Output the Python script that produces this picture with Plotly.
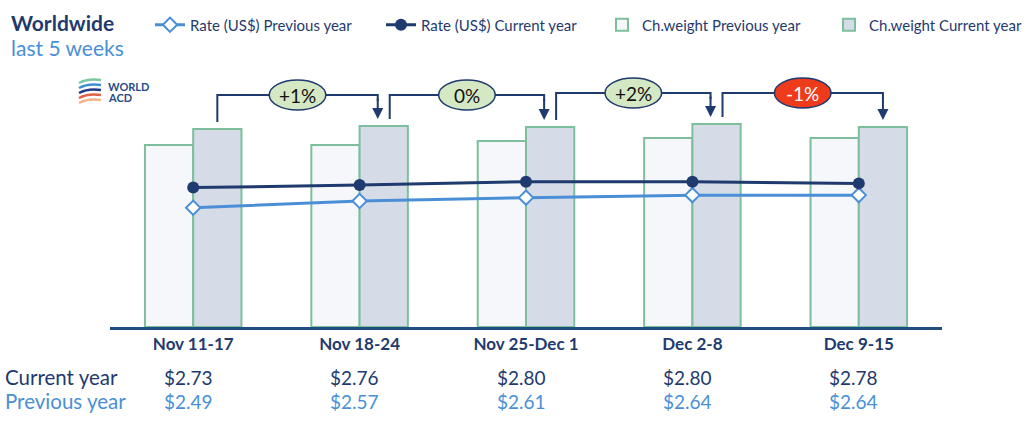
import plotly.graph_objects as go

# Data
weeks = ["Nov 11-17", "Nov 18-24", "Nov 25-Dec 1", "Dec 2-8", "Dec 9-15"]
rate_cur = [2.73, 2.76, 2.80, 2.80, 2.78]
rate_prev = [2.49, 2.57, 2.61, 2.64, 2.64]
weight_prev = [182, 182, 186, 189, 189]
weight_cur = [198, 201, 200, 203, 200]
changes = ["+1%", "0%", "+2%", "-1%"]

NAVY = "#1f3a6e"
LIGHT = "#4a8fd6"
GREEN = "#7dbf9c"
FONT = "Lato"

W, H = 1029, 431
MT, MB = 60, 104
PH = H - MT - MB
X0, X1 = 110, 942   # plot area left/right in px


def px(x):
    return x / W


def py(y):
    return (H - MB - y) / PH


xs = list(range(len(weeks)))

fig = go.Figure()
fig.add_trace(go.Scatter(x=xs, y=rate_prev, yaxis="y2", name="Rate (US$) Previous year",
                         mode="lines+markers", line=dict(color=LIGHT, width=3), legendwidth=186,
                         marker=dict(symbol="diamond", size=11, color="white",
                                     line=dict(color=LIGHT, width=2))))
fig.add_trace(go.Scatter(x=xs, y=rate_cur, yaxis="y2", name="Rate (US$) Current year",
                         mode="lines+markers", line=dict(color=NAVY, width=3), legendwidth=176,
                         marker=dict(symbol="circle", size=12, color=NAVY)))
fig.add_trace(go.Bar(x=xs, y=weight_prev, name="Ch.weight Previous year", legendwidth=182,
                     marker=dict(color="#f5f7fb", line=dict(color=GREEN, width=2))))
fig.add_trace(go.Bar(x=xs, y=weight_cur, name="Ch.weight Current year", legendwidth=155,
                     marker=dict(color="#d5dce8", line=dict(color=GREEN, width=2))))

# week-over-week brackets between current-year bars
half = (1 - 0.42) / 4
dx = 0.036
shapes, annos = [], []
for i, txt in enumerate(changes):
    x0 = i + half + (dx if i > 0 else 0)
    x1 = i + 1 + half - (dx if i < len(changes) - 1 else 0)
    y0 = weight_cur[i] + 7
    y1 = weight_cur[i + 1] + 7
    h = max(weight_cur[i], weight_cur[i + 1]) + 31
    shapes.append(dict(type="path", xref="x", yref="y",
                       path=f"M {x0},{y0} L {x0},{h} L {x1},{h} L {x1},{h - 6}",
                       line=dict(color=NAVY, width=2)))
    annos.append(dict(x=x1, y=y1, ax=x1, ay=h - 2, xref="x", yref="y", axref="x", ayref="y",
                      showarrow=True, arrowhead=2, arrowsize=1.1, arrowwidth=2,
                      arrowcolor=NAVY, text=""))
    xm = (x0 + x1) / 2
    neg = txt.startswith("-")
    shapes.append(dict(type="circle", xref="x", yref="y", x0=xm - 0.17, x1=xm + 0.17,
                       y0=h - 15, y1=h + 15, fillcolor="#ee3b1c" if neg else "#d5e8c4",
                       line=dict(color=NAVY, width=1.5), layer="above"))
    annos.append(dict(x=xm, y=h, xref="x", yref="y", text=txt, showarrow=False,
                      font=dict(family=FONT, size=19, color="white" if neg else "#111111")))

# table under the axis
annos.append(dict(x=px(3), y=py(377), xref="paper", yref="paper", xanchor="left", yanchor="middle",
                  text="Current year", showarrow=False, font=dict(family=FONT, size=20.5, color=NAVY)))
annos.append(dict(x=px(3), y=py(401), xref="paper", yref="paper", xanchor="left", yanchor="middle",
                  text="Previous year", showarrow=False, font=dict(family=FONT, size=20.5, color=LIGHT)))
for i in xs:
    annos.append(dict(x=i - 0.03, y=py(377), xref="x", yref="paper", yanchor="middle",
                      text=f"${rate_cur[i]:.2f}",
                      showarrow=False, font=dict(family=FONT, size=19, color=NAVY)))
    annos.append(dict(x=i - 0.03, y=py(401), xref="x", yref="paper", yanchor="middle",
                      text=f"${rate_prev[i]:.2f}",
                      showarrow=False, font=dict(family=FONT, size=19, color=LIGHT)))

# titles
annos.append(dict(x=px(9), y=py(22), xref="paper", yref="paper", xanchor="left", yanchor="middle",
                  text="<b>Worldwide</b>", showarrow=False, font=dict(family=FONT, size=21, color=NAVY)))
annos.append(dict(x=px(9), y=py(48), xref="paper", yref="paper", xanchor="left", yanchor="middle",
                  text="last 5 weeks", showarrow=False, font=dict(family=FONT, size=21, color=LIGHT)))

# WORLD ACD logo
for txt, yy in [("WORLD", 86), ("ACD", 97)]:
    annos.append(dict(x=px(106), y=py(yy), xref="paper", yref="paper", xanchor="left",
                      yanchor="middle", text=f"<b>{txt}</b>", showarrow=False,
                      font=dict(family=FONT, size=11, color="#2a4a8a")))
for k, c in enumerate(["#7cc6a0", "#3f8fd0", "#1f3a8a", "#e0604a", "#f2b38a"]):
    yy = 80 + k * 5
    shapes.append(dict(type="path", xref="paper", yref="paper",
                       path=f"M {px(79)},{py(yy + 3)} Q {px(88)},{py(yy - 2)} {px(101)},{py(yy)}",
                       line=dict(color=c, width=2.5)))

fig.update_layout(
    width=W, height=H,
    margin=dict(l=0, r=0, t=MT, b=MB, autoexpand=False),
    plot_bgcolor="white", paper_bgcolor="white",
    font=dict(family=FONT, size=15, color=NAVY),
    barmode="group", bargap=0.42, bargroupgap=0,
    showlegend=True,
    legend=dict(orientation="h", xref="container", yref="container",
                x=150 / W, y=1 - 25 / H, xanchor="left", yanchor="middle",
                font=dict(family=FONT, size=15, color=NAVY), traceorder="normal"),
    xaxis=dict(domain=[X0 / W, X1 / W], range=[-0.5, 4.5], tickvals=xs,
               ticktext=[f"<b>{w}</b>" for w in weeks],
               tickfont=dict(family=FONT, size=17, color=NAVY), showgrid=False,
               showline=True, linecolor="#1f4e80", linewidth=3, ticks="", zeroline=False),
    yaxis=dict(range=[0, PH], visible=False),
    yaxis2=dict(range=[(416.9 - (H - MB)) / 84, (416.9 - MT) / 84], overlaying="y",
                visible=False),
    shapes=shapes, annotations=annos,
)

fig.write_html("out.html", config={"displayModeBar": False},
               post_script="document.body.style.margin='0';")
